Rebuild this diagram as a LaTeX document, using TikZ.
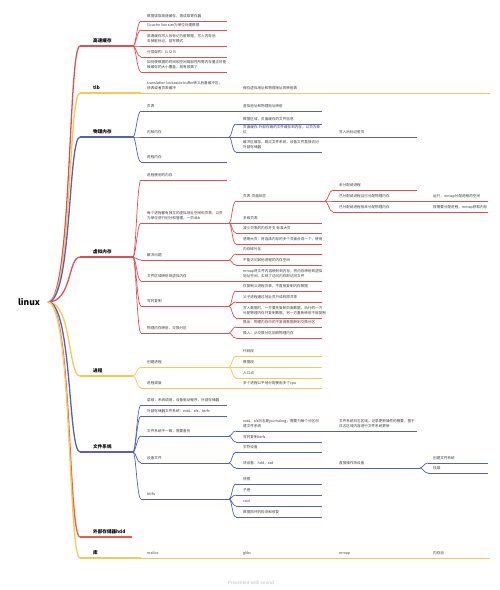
\documentclass[tikz,border=0pt]{standalone}
\usepackage{fontspec}
\setmainfont{Noto Sans CJK SC}
\usetikzlibrary{calc}
\definecolor{cr}{RGB}{226,78,88}
\definecolor{cy}{RGB}{246,201,84}
\definecolor{cb}{RGB}{84,96,194}
\definecolor{co}{RGB}{236,92,64}
\definecolor{tx}{RGB}{60,60,60}
\tikzset{
  lbl/.style={inner sep=0pt, text=tx, font=\fontsize{3.6}{4.9}\selectfont, align=left},
  lone/.style={inner sep=0pt, text=black, font=\fontsize{4.6}{5.5}\selectfont\bfseries, align=left},
  redA/.style={draw=cr, line width=1.1pt},
  redB/.style={draw=cr, line width=0.7pt},
  yelA/.style={draw=cy, line width=1.1pt},
  yelB/.style={draw=cy, line width=0.7pt},
  bluA/.style={draw=cb, line width=1.1pt},
  bluB/.style={draw=cb, line width=0.7pt},
  orgA/.style={draw=co, line width=1.1pt},
}
% #1 node style, #2 name, #3 line start x, #4 line end x, #5 line y, #6 line style, #7 text x, #8 text
\newcommand\tpc[8][lbl]{%
  \coordinate (#2s) at (#3,#5);
  \coordinate (#2e) at (#4,#5);
  \draw[#6] (#2s) -- (#2e);
  \node[#1,anchor=south west] (#2) at (#7,#5-2.8) {#8};
}
\newcommand\rootc[2]{\draw[#1,line width=1.3pt] (root-e) to[out=0,in=180,out distance=24pt,in distance=12pt] (#2s);}
\newcommand\cnx[3]{\draw[#1] (#2e) to[out=0,in=180,out distance=3pt,in distance=4pt] (#3s);}
\newcommand\chn[3]{\draw[#1] (#2e) -- (#3s);}
\begin{document}
\begin{tikzpicture}[x=1pt,y=-1pt]
\fill[white] (0,0) rectangle (500,590);
\useasboundingbox (0,0) rectangle (500,590);
\node[font=\fontsize{8.5}{9}\selectfont\bfseries, inner sep=0pt] (root) at (29,302) {linux};
\coordinate (root-e) at (48,302);

% ---------- 高速缓存
\tpc[lone]{hc}{80}{133}{46}{redA}{93}{高速缓存}
\tpc{hcA}{141}{227}{21}{redB}{147}{数据读取高速缓存，再读取寄存器}
\tpc{hcB}{141}{227}{30}{redB}{147}{l1cache line size为单位处理数据}
\tpc{hcC}{141}{227}{46}{redB}{147}{高速缓存写入后标记为脏数据，写入内存后\\去掉脏标记，回写模式}
\tpc{hcD}{141}{227}{57}{redB}{147}{分层架构：l1 l2 l3}
\tpc{hcE}{141}{227}{72}{redB}{147}{如何使数据的时间和空间局部性所需内存量正好能\\被缓存的大小覆盖，就有效果了}

% ---------- tlb
\tpc[lone]{tlb}{80}{141}{93}{yelA}{93}{tlb}
\tpc{tlbA}{141}{236}{93}{yelB}{147}{translation lookaside buffer转义后备缓冲区，\\快表或者页表缓冲}
\tpc{tlbB}{236}{490}{93}{yelB}{243}{保存虚拟地址和物理地址的映射表}

% ---------- 物理内存
\tpc[lone]{wl}{80}{133}{137}{bluA}{93}{物理内存}
\tpc{wlA}{141}{236}{111}{bluB}{147}{页表}
\tpc{wlAa}{236}{322}{111}{bluB}{243}{虚拟地址和物理地址映射}
\tpc{wlB}{141}{229}{137}{bluB}{147}{内核内存}
\tpc{wlBa}{236}{322}{124}{bluB}{243}{数据区域，页面缓存的文件信息}
\tpc{wlBb}{236}{333}{137}{bluB}{243}{页面缓存-外部存储的文件缓存到内存，以页为单\\位}
\tpc{wlBbx}{333}{417}{137}{bluB}{339}{写入后标记脏页}
\tpc{wlBc}{236}{322}{152}{bluB}{243}{缓冲区缓存，跳过文件系统，设备文件直接访问\\外部存储器}
\tpc{wlC}{141}{227}{162}{bluB}{147}{进程内存}

% ---------- 虚拟内存
\tpc[lone]{xn}{80}{133}{257}{redA}{93}{虚拟内存}
\tpc{xnA}{141}{227}{180}{redB}{147}{进程使用的内存}
\tpc{xnB}{141}{229}{223}{redB}{147}{每个进程都有独立的虚拟地址空间和页表，以页\\为单位进行划分和管理，一页4kb}
\tpc{xnBa}{236}{325}{201}{redB}{243}{页表-页面状态}
\tpc{xnBaa}{333}{417}{190}{redB}{339}{未分配给进程}
\tpc{xnBab}{333}{428}{201}{redB}{339}{已分配给进程且已分配物理内存}
\tpc{xnBabx}{428}{488}{201}{redB}{433}{运行，mmap分配进程的空间}
\tpc{xnBac}{333}{428}{212}{redB}{339}{已分配给进程但未分配物理内存}
\tpc{xnBacx}{428}{488}{212}{redB}{433}{按需要分配进程，mmap获取内存}
\tpc{xnBb}{236}{322}{223}{redB}{243}{多级页表}
\tpc{xnBc}{236}{322}{233}{redB}{243}{减少页表的内存开支 标准大页}
\tpc{xnBd}{236}{322}{244}{redB}{243}{透明大页：将连续内存的多个页面合成一个，使用}
\tpc{xnC}{141}{229}{260}{redB}{147}{解决问题}
\tpc{xnCa}{236}{322}{254}{redB}{243}{内存碎片化}
\tpc{xnCb}{236}{322}{265}{redB}{243}{不能访问其他进程的内存空间}
\tpc{xnD}{141}{236}{281}{redB}{147}{文件区域映射到虚拟内存}
\tpc{xnDa}{236}{322}{281}{redB}{243}{mmap将文件内容映射到内存，将内存映射到虚拟\\地址空间，实现了访问内存即访问文件}
\tpc{xnE}{141}{229}{306}{redB}{147}{写时复制}
\tpc{xnEa}{236}{322}{291}{redB}{243}{仅复制父进程页表，不直接复制内存数据}
\tpc{xnEb}{236}{322}{302}{redB}{243}{父子进程通过地址页只读权限共享}
\tpc{xnEc}{236}{322}{318}{redB}{243}{写入数据时，一方要先复制页面数据，执行的一方\\分配物理内存并复制数据，另一方重新映射不就复制}
\tpc{xnF}{141}{229}{333}{redB}{147}{物理内存映射，交换分区}
\tpc{xnFa}{236}{322}{327}{redB}{243}{换出：物理内存中的不常用数据转到交换分区}
\tpc{xnFb}{236}{322}{338}{redB}{243}{换入：从交换分区回到物理内存}

% ---------- 进程
\tpc[lone]{jc}{80}{133}{376}{yelA}{93}{进程}
\tpc{jcA}{141}{229}{367}{yelB}{147}{创建进程}
\tpc{jcAa}{236}{322}{356}{yelB}{243}{代码段}
\tpc{jcAb}{236}{322}{367}{yelB}{243}{数据段}
\tpc{jcAc}{236}{322}{378}{yelB}{243}{入口点}
\tpc{jcB}{141}{236}{388}{yelB}{147}{进程调度}
\tpc{jcBa}{236}{322}{388}{yelB}{243}{多个进程公平地分配使用多个cpu}

% ---------- 文件系统
\tpc[lone]{fs}{80}{133}{452}{bluA}{93}{文件系统}
\tpc{fsA}{141}{227}{405}{bluB}{147}{层级：系统调用，设备驱动程序，外部存储器}
\tpc{fsB}{141}{227}{416}{bluB}{147}{外部存储器文件系统：ext4，xfs，btrfs}
\tpc{fsC}{141}{229}{436}{bluB}{147}{文件系统不一致，需要备份}
\tpc{fsCa}{236}{333}{431}{bluB}{243}{ext4，xfs日志是journaling，需要为每个分区创\\建文件系统}
\tpc{fsCax}{333}{417}{431}{bluB}{339}{文件系统日志区域，记录更新操作的概要，基于\\日志区域内容进行文件系统更新}
\tpc{fsCb}{236}{322}{442}{bluB}{243}{写时复制btrfs}
\tpc{fsD}{141}{229}{463}{bluB}{147}{设备文件}
\tpc{fsDa}{236}{322}{452}{bluB}{243}{字符设备}
\tpc{fsDb}{236}{333}{468}{bluB}{243}{块设备：hdd，ssd}
\tpc{fsDbx}{333}{420}{468}{bluB}{339}{直接操作块设备}
\tpc{fsDbxa}{428}{488}{463}{bluB}{433}{创建文件系统}
\tpc{fsDbxb}{428}{488}{473}{bluB}{433}{挂载}
\tpc{fsE}{141}{229}{499}{bluB}{147}{btrfs}
\tpc{fsEa}{236}{322}{484}{bluB}{243}{快照}
\tpc{fsEb}{236}{322}{495}{bluB}{243}{子卷}
\tpc{fsEc}{236}{322}{506}{bluB}{243}{raid}
\tpc{fsEd}{236}{322}{517}{bluB}{243}{数据损坏的检测和修复}

% ---------- 外部存储器hdd / 库
\tpc[lone]{hdd}{80}{132}{537}{orgA}{93}{外部存储器hdd}
\tpc[lone]{lib}{80}{141}{558}{yelA}{93}{库}
\tpc{libA}{141}{236}{558}{yelB}{147}{malloc}
\tpc{libB}{236}{333}{558}{yelB}{243}{glibc}
\tpc{libC}{333}{428}{558}{yelB}{339}{mmap}
\tpc{libD}{428}{490}{558}{yelB}{433}{内存池}

% ---------- root connectors
\rootc{redA}{hc}
\rootc{yelA}{tlb}
\rootc{bluA}{wl}
\rootc{redA}{xn}
\rootc{yelA}{jc}
\rootc{bluA}{fs}
\rootc{orgA}{hdd}
\rootc{yelA}{lib}

% ---------- child connectors
\cnx{redB}{hc}{hcA}\cnx{redB}{hc}{hcB}\cnx{redB}{hc}{hcC}\cnx{redB}{hc}{hcD}\cnx{redB}{hc}{hcE}
\chn{yelB}{tlb}{tlbA}\chn{yelB}{tlbA}{tlbB}
\cnx{bluB}{wl}{wlA}\cnx{bluB}{wl}{wlB}\cnx{bluB}{wl}{wlC}
\chn{bluB}{wlA}{wlAa}
\cnx{bluB}{wlB}{wlBa}\cnx{bluB}{wlB}{wlBb}\cnx{bluB}{wlB}{wlBc}
\chn{bluB}{wlBb}{wlBbx}
\cnx{redB}{xn}{xnA}\cnx{redB}{xn}{xnB}\cnx{redB}{xn}{xnC}\cnx{redB}{xn}{xnD}\cnx{redB}{xn}{xnE}\cnx{redB}{xn}{xnF}
\cnx{redB}{xnB}{xnBa}\cnx{redB}{xnB}{xnBb}\cnx{redB}{xnB}{xnBc}\cnx{redB}{xnB}{xnBd}
\cnx{redB}{xnBa}{xnBaa}\cnx{redB}{xnBa}{xnBab}\cnx{redB}{xnBa}{xnBac}
\chn{redB}{xnBab}{xnBabx}\chn{redB}{xnBac}{xnBacx}
\cnx{redB}{xnC}{xnCa}\cnx{redB}{xnC}{xnCb}
\chn{redB}{xnD}{xnDa}
\cnx{redB}{xnE}{xnEa}\cnx{redB}{xnE}{xnEb}\cnx{redB}{xnE}{xnEc}
\cnx{redB}{xnF}{xnFa}\cnx{redB}{xnF}{xnFb}
\cnx{yelB}{jc}{jcA}\cnx{yelB}{jc}{jcB}
\cnx{yelB}{jcA}{jcAa}\cnx{yelB}{jcA}{jcAb}\cnx{yelB}{jcA}{jcAc}
\chn{yelB}{jcB}{jcBa}
\cnx{bluB}{fs}{fsA}\cnx{bluB}{fs}{fsB}\cnx{bluB}{fs}{fsC}\cnx{bluB}{fs}{fsD}\cnx{bluB}{fs}{fsE}
\cnx{bluB}{fsC}{fsCa}\cnx{bluB}{fsC}{fsCb}
\chn{bluB}{fsCa}{fsCax}
\cnx{bluB}{fsD}{fsDa}\cnx{bluB}{fsD}{fsDb}
\chn{bluB}{fsDb}{fsDbx}
\cnx{bluB}{fsDbx}{fsDbxa}\cnx{bluB}{fsDbx}{fsDbxb}
\cnx{bluB}{fsE}{fsEa}\cnx{bluB}{fsE}{fsEb}\cnx{bluB}{fsE}{fsEc}\cnx{bluB}{fsE}{fsEd}
\chn{yelB}{lib}{libA}\chn{yelB}{libA}{libB}\chn{yelB}{libB}{libC}\chn{yelB}{libC}{libD}

\node[font=\fontsize{4.5}{5}\selectfont, text=black!28, inner sep=0pt] (ft) at (251,583) {Presented with xmind};
\end{tikzpicture}
\end{document}
